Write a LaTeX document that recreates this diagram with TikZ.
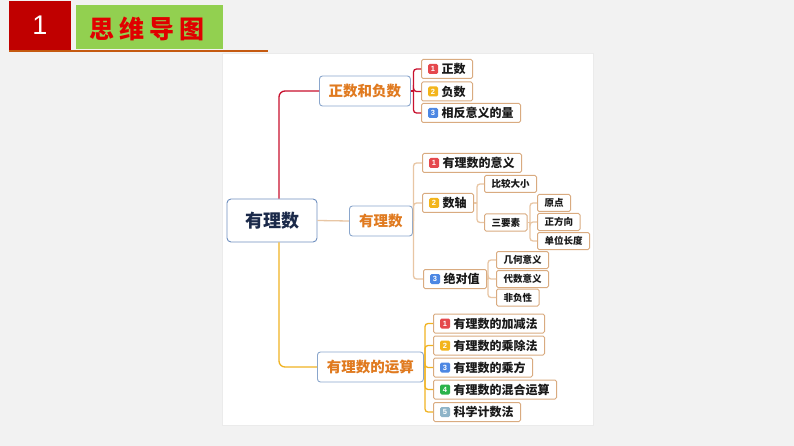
\documentclass[tikz,border=0pt]{standalone}
\usepackage{fontspec}
\newfontfamily\cjk{Noto Sans CJK SC}
\newfontfamily\latin{Liberation Sans}
\definecolor{bgc}{HTML}{F2F2F2}
\definecolor{hdred}{HTML}{C00000}
\definecolor{hdgreen}{HTML}{92D050}
\definecolor{hdline}{HTML}{C55A11}
\definecolor{hdtext}{HTML}{E00000}
\definecolor{rootborder}{HTML}{6F8FBF}
\definecolor{rootfont}{HTML}{1B2A4A}
\definecolor{brborder}{HTML}{8AA6CC}
\definecolor{brfont}{HTML}{E07A1F}
\definecolor{leafborder}{HTML}{D9AB80}
\definecolor{linered}{HTML}{C8102E}
\definecolor{linetan}{HTML}{E8C6A4}
\definecolor{linegold}{HTML}{F0B323}
\definecolor{bA}{HTML}{E5484D}
\definecolor{bB}{HTML}{F3B51B}
\definecolor{bC}{HTML}{4C87E3}
\definecolor{bD}{HTML}{2BB34B}
\definecolor{bE}{HTML}{8EB4C8}
\tikzset{
  rootbox/.style={draw=rootborder, line width=0.9pt, rounded corners=4pt, fill=white,
    minimum width=90pt, minimum height=43pt, inner sep=0pt, text=rootfont,
    font=\cjk\bfseries\fontsize{18}{18}\selectfont},
  brbox/.style={draw=brborder, line width=0.9pt, rounded corners=3pt, fill=white,
    minimum height=30pt, inner sep=0pt, text=brfont, anchor=west,
    font=\cjk\bfseries\fontsize{14.5}{14.5}\selectfont},
  leafbox/.style={draw=leafborder, line width=1pt, rounded corners=1.5pt, fill=white,
    minimum height=19pt, inner xsep=7pt, inner ysep=0pt, text=black!90, anchor=west,
    font=\cjk\bfseries\fontsize{12}{12}\selectfont},
  subbox/.style={draw=leafborder, line width=1pt, rounded corners=1.5pt, fill=white,
    minimum height=17pt, inner xsep=7pt, inner ysep=0pt, text=black!90, anchor=west,
    font=\cjk\bfseries\fontsize{9.5}{9.5}\selectfont},
  badge/.style={fill=#1, rounded corners=1.5pt, minimum size=10pt, inner sep=0pt,
    text=white, font=\latin\bfseries\fontsize{7.5}{7.5}\selectfont},
  conn/.style={line width=1.3pt, rounded corners=4pt},
}
\newcommand{\bdg}{\hspace*{13pt}}
\begin{document}
\begin{tikzpicture}[x=1pt,y=-1pt]
\useasboundingbox (0,0) rectangle (794,446);
\fill[bgc] (0,0) rectangle (794,446);
% header
\fill[hdred] (9,1) rectangle (71,50);
\node[text=white, font=\latin\fontsize{27}{27}\selectfont] (num) at (40,25.5) {1};
\fill[hdgreen] (76,5) rectangle (223,49);
\node[text=hdtext, font=\cjk\bfseries\fontsize{25}{25}\selectfont] (title) at (147,29) {思\hspace{5pt}维\hspace{5pt}导\hspace{5pt}图};
\draw[hdline, line width=2pt] (9,51) -- (268,51);
% white panel
\fill[white] (222,53) rectangle (593,425);
\draw[black!8, line width=0.6pt] (222,53) rectangle (593,425);

% nodes
\node[rootbox] (root) at (272,220.5) {有理数};
\node[brbox, minimum width=91pt] (b1) at (319,91) {正数和负数};
\node[brbox, minimum width=63pt] (b2) at (349,221) {有理数};
\node[brbox, minimum width=106pt] (b3) at (317,367) {有理数的运算};

\node[leafbox] (a1) at (421,69) {\bdg 正数};
\node[leafbox] (a2) at (421,91.5) {\bdg 负数};
\node[leafbox] (a3) at (421,113) {\bdg 相反意义的量};

\node[leafbox] (m1) at (422,163) {\bdg 有理数的意义};
\node[leafbox] (m2) at (422,203) {\bdg 数轴};
\node[leafbox] (m3) at (423,279) {\bdg 绝对值};

\node[subbox] (s1) at (484,184) {比较大小};
\node[subbox] (s2) at (484,222.5) {三要素};
\node[subbox] (t1) at (537,203) {原点};
\node[subbox] (t2) at (537,222) {正方向};
\node[subbox] (t3) at (537,241) {单位长度};
\node[subbox] (u1) at (496,260) {几何意义};
\node[subbox] (u2) at (496,279) {代数意义};
\node[subbox] (u3) at (496,297.5) {非负性};

\node[leafbox] (o1) at (433,323.5) {\bdg 有理数的加减法};
\node[leafbox] (o2) at (433,345.5) {\bdg 有理数的乘除法};
\node[leafbox] (o3) at (433,367.5) {\bdg 有理数的乘方};
\node[leafbox] (o4) at (433,389.5) {\bdg 有理数的混合运算};
\node[leafbox] (o5) at (433,412) {\bdg 科学计数法};

% badges
\node[badge=bA] (ba1) at ([xshift=12pt]a1.west) {1};
\node[badge=bB] (ba2) at ([xshift=12pt]a2.west) {2};
\node[badge=bC] (ba3) at ([xshift=12pt]a3.west) {3};
\node[badge=bA] (bm1) at ([xshift=12pt]m1.west) {1};
\node[badge=bB] (bm2) at ([xshift=12pt]m2.west) {2};
\node[badge=bC] (bm3) at ([xshift=12pt]m3.west) {3};
\node[badge=bA] (bo1) at ([xshift=12pt]o1.west) {1};
\node[badge=bB] (bo2) at ([xshift=12pt]o2.west) {2};
\node[badge=bC] (bo3) at ([xshift=12pt]o3.west) {3};
\node[badge=bD] (bo4) at ([xshift=12pt]o4.west) {4};
\node[badge=bE] (bo5) at ([xshift=12pt]o5.west) {5};

% junctions
\coordinate (j1) at (413.5,91);
\coordinate (j2) at (413.5,221);
\coordinate (j3) at (425,367);
\coordinate (j4) at (477,203);
\coordinate (j5) at (530,222.5);
\coordinate (j6) at (488,279);

% main connectors
\draw[conn, linered, rounded corners=6pt] ([xshift=7pt]root.north) |- (b1.west);
\draw[conn, linetan] (root.east) -- (b2.west);
\draw[conn, linegold, rounded corners=6pt] ([xshift=7pt]root.south) |- (b3.west);

% branch 1
\draw[conn, linered] (b1.east) -- (j1);
\foreach \c in {a1,a2,a3} \draw[conn, linered, rounded corners=3pt] (j1) |- (\c.west);
% branch 2
\draw[conn, linetan] (b2.east) -- (j2);
\foreach \c in {m1,m2,m3} \draw[conn, linetan, rounded corners=3pt] (j2) |- (\c.west);
\draw[conn, linetan] (m2.east) -- (j4);
\foreach \c in {s1,s2} \draw[conn, linetan, rounded corners=3pt] (j4) |- (\c.west);
\draw[conn, linetan] (s2.east) -- (j5);
\foreach \c in {t1,t2,t3} \draw[conn, linetan, rounded corners=3pt] (j5) |- (\c.west);
\draw[conn, linetan] (m3.east) -- (j6);
\foreach \c in {u1,u2,u3} \draw[conn, linetan, rounded corners=3pt] (j6) |- (\c.west);
% branch 3
\draw[conn, linegold] (b3.east) -- (j3);
\foreach \c in {o1,o2,o3,o4,o5} \draw[conn, linegold, rounded corners=3pt] (j3) |- (\c.west);
\end{tikzpicture}
\end{document}
